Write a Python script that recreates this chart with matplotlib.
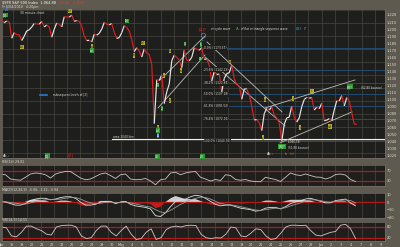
import matplotlib
matplotlib.use('Agg')
import matplotlib.pyplot as plt
from matplotlib.collections import LineCollection
import numpy as np

# x axis: one slot per trading day (Apr 15 .. Jun 4 2010 + a few empty days)
day_labels = ['Apr', '16', '19', '20', '21', '22', '23', '26', '27', '28', '29', '30',
              'May', '4', '5', '6', '7', '10', '11', '12', '13', '14', '17', '18', '19',
              '20', '21', '24', '25', '26', '27', '28', 'Jun', '2', '3', '4', '7', '8', '9']

# $SPX 30 minute path, four points per trading day (open, swing, swing, close)
spx = [
    [1210.0, 1213.0, 1209.0, 1211.7],   # Apr 15
    [1210.0, 1187.0, 1195.0, 1192.1],
    [1192.0, 1183.7, 1190.0, 1197.5],
    [1199.0, 1203.0, 1208.0, 1207.2],
    [1207.0, 1210.9, 1203.0, 1205.9],
    [1203.0, 1188.5, 1200.0, 1208.7],
    [1207.0, 1203.0, 1217.5, 1217.3],
    [1217.0, 1219.8, 1211.0, 1212.1],
    [1211.0, 1204.0, 1190.0, 1183.7],
    [1184.0, 1181.6, 1193.0, 1191.4],
    [1194.0, 1200.0, 1209.4, 1206.8],
    [1206.0, 1207.9, 1195.0, 1186.7],
    [1188.0, 1195.0, 1205.0, 1202.3],   # May 3
    [1197.0, 1185.0, 1168.1, 1173.6],
    [1169.0, 1160.3, 1172.0, 1165.9],
    [1164.0, 1150.0, 1065.8, 1128.2],
    [1127.0, 1135.0, 1094.2, 1110.9],
    [1122.0, 1155.0, 1163.2, 1159.7],
    [1156.0, 1145.1, 1170.0, 1155.8],
    [1155.0, 1160.0, 1173.6, 1171.7],
    [1170.0, 1173.6, 1157.0, 1157.4],
    [1149.0, 1126.1, 1140.0, 1135.7],
    [1136.0, 1110.9, 1130.0, 1136.9],
    [1138.0, 1148.7, 1130.0, 1120.8],
    [1119.0, 1100.4, 1115.0, 1115.1],
    [1107.0, 1090.0, 1071.0, 1071.6],
    [1067.0, 1055.9, 1080.0, 1087.7],
    [1085.0, 1089.9, 1078.0, 1073.7],
    [1067.0, 1040.8, 1065.0, 1074.0],
    [1075.0, 1090.8, 1075.0, 1068.0],
    [1074.0, 1090.0, 1100.0, 1103.1],
    [1102.0, 1102.6, 1085.0, 1089.4],
    [1087.0, 1094.8, 1070.0, 1070.7],   # Jun 1
    [1073.0, 1069.9, 1085.0, 1098.4],
    [1098.0, 1105.7, 1091.0, 1102.8],
    [1098.0, 1081.0, 1065.0, 1064.9],   # Jun 4
]

# indicators, two readings per trading day
rsi = [58, 55, 38, 35, 33, 45, 58, 62, 60, 55, 42, 58, 64, 68, 68, 55, 42, 35,
       38, 48, 58, 62, 52, 40, 55, 58, 38, 35, 36, 40, 30, 15, 35, 38, 62, 65,
       55, 62, 66, 68, 45, 38, 30, 36, 32, 55, 52, 36, 33, 36, 30, 28, 27, 45,
       40, 36, 28, 45, 62, 55, 52, 58, 52, 46, 45, 38, 44, 56, 58, 54, 36, 28]
macd = [1, 0, -2, -4, -4, -2, 2, 4, 5, 5, 3, 4, 6, 7, 7, 5, 0, -4,
        -4, -3, 0, 1, 1, -2, 0, 1, -3, -5, -6, -7, -9, -18, -19, -14, -6, 1,
        3, 4, 7, 9, 8, 5, 1, -3, -5, -4, -4, -6, -8, -9, -10, -12, -11, -8,
        -7, -7, -9, -6, -2, 0, 2, 4, 5, 3, 1, -1, -1, 2, 3, 4, -1, -5]
signal = [1, 0.5, -0.5, -1.5, -2.5, -2.5, -1, 0.5, 2, 3, 3.5, 3.5, 4, 5, 6, 6, 4, 1,
          -1, -2, -1.5, -0.5, 0, -0.5, -0.5, 0, -1, -2.5, -4, -5.5, -6.5, -10, -13, -14, -11, -7,
          -3, 0, 3, 5, 6.5, 6, 4, 1, -2, -3, -3.5, -4.5, -6, -7.5, -9, -10.5, -11, -10,
          -9, -8, -8.5, -7.5, -5, -3, -1, 1.5, 3, 3, 2, 0.5, 0, 1, 2, 3, 2, -1]
stoch = [80, 75, 30, 25, 50, 85, 85, 70, 60, 40, 35, 80, 88, 90, 90, 80, 30, 15,
         20, 60, 85, 85, 50, 30, 60, 85, 40, 10, 15, 50, 70, 10, 20, 65, 80, 85,
         80, 88, 90, 88, 40, 20, 15, 20, 18, 40, 80, 75, 30, 25, 45, 70, 65, 30,
         10, 15, 45, 80, 90, 90, 88, 90, 60, 35, 30, 40, 50, 55, 90, 95, 70, 15]

# Fibonacci retracement of the May 13 high .. May 25 low
fib_names = ['0.0%', '23.6%', '38.2%', '50.0%', '61.8%', '76.4%', '100.0%']
fib_levels = [1173.57, 1142.23, 1122.84, 1107.18, 1091.52, 1072.16, 1040.78]

# hand drawn trend channels: (day, price) -> (day, price)
channels = [
    ((16.0, 1088.0), (20.7, 1163.3)),
    ((16.2, 1127.8), (20.7, 1190.2)),
    ((20.9, 1181.7), (28.4, 1082.4)),
    ((20.7, 1160.4), (28.7, 1062.5)),
    ((26.7, 1088.0), (35.7, 1127.8)),
    ((28.2, 1038.5), (35.4, 1082.4)),
]

# wave labels: day, price, text, box colour
wave_tags = [
    (0.7, 1220.0, '[1]', 'g'), (7.2, 1225.7, '(v)', 'y'), (12.9, 1211.5, '(b)', 'g'),
    (2.4, 1174.6, '(a)', 'y'), (9.4, 1175.0, 'a', 'y'), (9.4, 1169.0, '(a)', 'g'),
    (13.6, 1163.0, 'b', 'y'), (14.5, 1180.3, '(b)', 'y'), (18.7, 1178.9, '3', 'g'),
    (20.3, 1177.5, '5', 'g'), (17.2, 1168.9, 'b', 'y'), (20.2, 1157.6, '4', 'g'),
    (18.3, 1140.6, 'a', 'y'), (23.2, 1153.3, 'b', 'y'), (16.6, 1133.5, 'c', 'y'),
    (16.0, 1120.7, '1', 'g'), (17.2, 1098.0, '2', 'y'), (16.4, 1086.7, '2', 'g'),
    (16.0, 1061.0, 'c', 'y'), (16.0, 1055.5, '(a)', 'g'), (16.0, 1048.4, 'A', 'b'),
    (26.5, 1045.6, 'c', 'y'), (26.7, 1099.5, 'a', 'y'), (29.5, 1100.9, 'i', 'y'),
    (31.4, 1112.0, 'iii', 'y'), (30.2, 1059.8, 'ii', 'y'), (33.2, 1061.2, 'iv?', 'y'),
    (35.2, 1117.9, '[X]?', 'g'), (28.4, 1032.8, '[W]?', 'g'),
    (4.9, 1020.0, '[1]', 'g'), (15.9, 1019.0, '(1)', 'g'), (20.4, 1019.0, '(2)', 'g'),
]

BG = '#5e5a50'
PANEL = '#1e1e1c'
GRID = '#48463f'
UP = '#e6e6e6'
DOWN = '#e0201c'
REDLINE = '#b01a18'
TXT = '#dcdcd4'
BOXC = {'y': '#b4aa2a', 'g': '#2e9a32', 'b': '#2a7ad0'}
W, H = 400.0, 247.0


def box(x0, y0, x1, y1):
    return [x0 / W, 1 - y1 / H, (x1 - x0) / W, (y1 - y0) / H]


def style(a, ylim):
    a.set_facecolor(PANEL)
    a.set_xlim(0.4, 38.7)
    a.set_ylim(*ylim)
    a.yaxis.tick_right()
    a.tick_params(axis='y', length=0, pad=1.5, labelsize=2.6, labelcolor=TXT)
    a.tick_params(axis='x', length=0)
    a.set_xticks([])
    for v in np.arange(1.53, 38.7, 1.34):                          # vertical grid
        a.axvline(v, color=GRID, lw=0.5, zorder=0)
    for s in a.spines.values():
        s.set_color('#74706a')
        s.set_linewidth(0.5)


fig = plt.figure(figsize=(4, 2.47), dpi=100, facecolor=BG)

# ---------------- price panel
ax = fig.add_axes(box(2, 9, 385, 158))
style(ax, (1017, 1228.5))
for v in np.arange(1227, 1017, -18.4):
    ax.axhline(v, color=GRID, lw=0.5, zorder=0)
ticks = list(range(1020, 1230, 10))
ax.set_yticks(ticks)
ax.set_yticklabels(['{:,}'.format(v) for v in ticks])

for name, lvl in zip(fib_names, fib_levels):
    ax.plot([20.5, 38.7], [lvl, lvl], color='#24527e', lw=0.6, zorder=1)
    ax.text(20.6, lvl, '{} ({:.2f})'.format(name, lvl), fontsize=2.1, color=TXT,
            va='center', ha='left', zorder=6,
            bbox=dict(boxstyle='square,pad=0.1', fc=PANEL, ec='none'))
ax.plot([11.4, 38.7], [1044, 1044], color='#f0f0f0', lw=0.8, zorder=2)
ax.text(11.5, 1047.5, 'area 1040 line', fontsize=2.1, color=TXT, ha='left', va='center')

for (a0, a1) in channels:
    ax.plot([a0[0], a1[0]], [a0[1], a1[1]], color='#bdbdb8', lw=0.6, zorder=2)

t = np.array([d + (k + 0.5) / 4 for d in range(len(spx)) for k in range(4)])
p = np.array(spx).ravel()
segs = [[(t[i], p[i]), (t[i + 1], p[i + 1])] for i in range(len(p) - 1)]
cols = [UP if p[i + 1] >= p[i] else DOWN for i in range(len(p) - 1)]
ax.add_collection(LineCollection(segs, colors=cols, linewidths=0.85, zorder=4))

for d, pr, s, c in wave_tags:
    ax.text(d, pr, s, fontsize=2.1, color='#101010' if c == 'y' else 'white',
            ha='center', va='center', zorder=7,
            bbox=dict(boxstyle='square,pad=0.15', fc=BOXC[c], ec='none'))

ax.text(2.2, 1222.8, '30 minute chart', fontsize=2.2, color=TXT, ha='left', va='center')
ax.text(0.9, 1227.0, 'A?', fontsize=2.6, color='#3a86ff', ha='center', va='center')
ax.plot([4.2, 4.9], [1106.6, 1106.6], color='#2a7ad0', lw=1.2)
ax.text(5.5, 1106.6, 'subsequent levels of [2]', fontsize=2.1, color=TXT, ha='left', va='center')
ax.text(0.5, 1020.5, 'Alt.:', fontsize=2.4, color=TXT, ha='left', va='center')
ax.text(7.3, 1020.5, '[2]', fontsize=3.0, color='#e02a20', ha='center', va='center')
ax.text(26.9, 1022.9, 'Alt.:', fontsize=2.4, color=TXT, ha='left', va='center')
ax.text(28.7, 1022.5, 'b    (c)', fontsize=2.1, color='#d08a30', ha='left', va='center')
ax.text(29.0, 1039.5, '(1040.78)', fontsize=2.0, color=TXT, ha='left', va='center')
ax.text(29.0, 1031.4, '(51.88 bounce)', fontsize=2.0, color=TXT, ha='left', va='center')
ax.text(36.3, 1116.5, '(62.80 bounce)', fontsize=2.0, color=TXT, ha='left', va='center')
ax.text(20.5, 1200.1, '[2]?', fontsize=3.0, color='#e02a20', ha='center', va='center')
ax.plot([20.5], [1191.6], marker='o', ms=3.2, mfc='none', mec='#9a50e0', mew=0.6)
ax.text(20.5, 1184.5, 'C', fontsize=2.6, color='#30c8e0', ha='center', va='center')
ax.text(21.3, 1200.1, 'or cycle wave', fontsize=2.1, color=TXT, ha='left', va='center')
ax.text(23.9, 1200.1, 'A', fontsize=2.8, color='#30c040', ha='center', va='center')
ax.text(24.3, 1200.1, 'of flat or triangle sequence wave', fontsize=2.1, color=TXT,
        ha='left', va='center')
ax.text(30.1, 1200.1, '(X)', fontsize=3.0, color='#30a8e0', ha='center', va='center')
ax.text(30.7, 1200.1, '?', fontsize=2.4, color=TXT, ha='center', va='center')

# header
fig.text(2 / W, 1 - 3 / H, '$SPX S&P 500 Index  1,064.88', fontsize=2.5, color='white', va='center')
fig.text(58 / W, 1 - 3 / H, '-37.56  -3.40%', fontsize=2.5, color='#ff3030', va='center')
fig.text(2 / W, 1 - 7 / H, 'Fr 6/04/2010   4:20pm', fontsize=2.3, color=TXT, va='center')

th = np.arange(len(rsi)) / 2.0 + 0.25

# ---------------- RSI
a1 = fig.add_axes(box(2, 165, 385, 186))
style(a1, (10, 94))
a1.set_yticks([70, 30])
a1.axhline(70, color=REDLINE, lw=0.9)
a1.axhline(30, color=REDLINE, lw=0.9)
a1.plot(th, rsi, color='#c8c8c8', lw=0.6)
fig.text(2 / W, 1 - 162 / H, 'RSI(14) 29.81', fontsize=2.3, color=TXT, va='center')

# ---------------- MACD
a2 = fig.add_axes(box(2, 193, 385, 218))
style(a2, (-21, 12))
a2.set_yticks([10, 0, -10, -20])
a2.axhline(0, color=REDLINE, lw=0.9)
hist = np.array(macd) - np.array(signal)
a2.fill_between(th, hist, 0, where=hist >= 0, color='#cfcfcf', lw=0, interpolate=True)
a2.fill_between(th, hist, 0, where=hist < 0, color='#c41c1a', lw=0, interpolate=True)
a2.plot(th, macd, color='#e0e0e0', lw=0.6)
a2.plot(th, signal, color='#9a9a9a', lw=0.6)
fig.text(2 / W, 1 - 190 / H, 'MACD(12,26,9)  -5.06, -1.12, -3.94', fontsize=2.3, color=TXT, va='center')

# ---------------- slow stochastic
a3 = fig.add_axes(box(2, 222, 385, 241))
style(a3, (1.5, 108))
a3.set_yticks([80, 20])
a3.axhline(80, color=REDLINE, lw=0.9)
a3.axhline(20, color=REDLINE, lw=0.9)
a3.plot(th, stoch, color='#d8c4c4', lw=0.6)
fig.text(2 / W, 1 - 219.5 / H, '%K(14,3) 14.55', fontsize=2.3, color=TXT, va='center')

a3.set_xticks(np.arange(len(day_labels)) + 0.3)
a3.set_xticklabels(day_labels)
a3.tick_params(axis='x', labelsize=2.4, labelcolor=TXT, pad=1.2)

fig.savefig('out.png', dpi=100, facecolor=BG)
